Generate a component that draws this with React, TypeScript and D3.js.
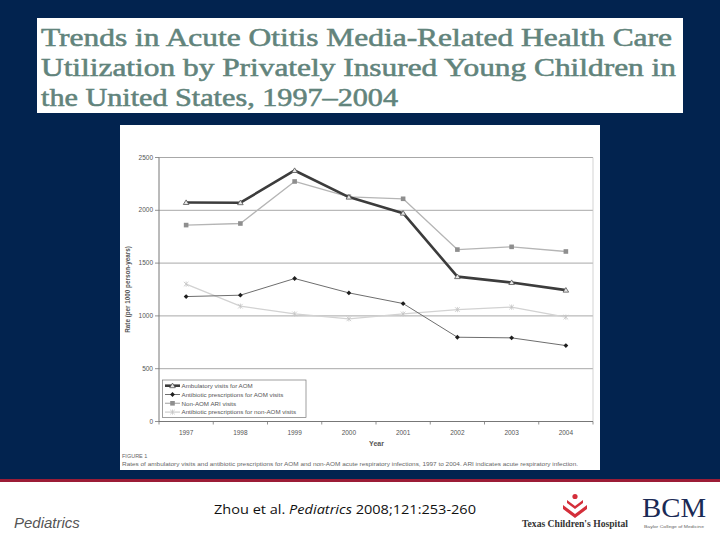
import React from "react";
import * as d3 from "d3";

const years = ["1997", "1998", "1999", "2000", "2001", "2002", "2003", "2004"];
const ambulatoryAOM = [2074, 2072, 2377, 2125, 1973, 1372, 1316, 1244];
const antibioticAOM = [1183, 1196, 1354, 1218, 1117, 798, 792, 719];
const nonAOMARI = [1860, 1875, 2273, 2128, 2109, 1628, 1654, 1610];
const antibioticNonAOM = [1301, 1092, 1019, 972, 1019, 1060, 1083, 988];
const yTicks = [0, 500, 1000, 1500, 2000, 2500];
const seriesNames = [
  "Ambulatory visits for AOM",
  "Antibiotic prescriptions for AOM visits",
  "Non-AOM ARI visits",
  "Antibiotic prescriptions for non-AOM visits",
];
const titleLines = [
  "Trends in Acute Otitis Media-Related Health Care",
  "Utilization by Privately Insured Young Children in",
  "the United States, 1997\u20132004",
];

const NAVY = "#02234f";

type Series = {
  name: string;
  values: number[];
  line: string;
  width: number;
  marker: "triangle" | "diamond" | "square" | "x";
  mFill: string;
  mStroke: string;
};

const series: Series[] = [
  { name: seriesNames[3], values: antibioticNonAOM, line: "#d2d2d2", width: 1.3, marker: "x", mFill: "none", mStroke: "#c4c4c4" },
  { name: seriesNames[1], values: antibioticAOM, line: "#6e6e6e", width: 1, marker: "diamond", mFill: "#1e1e1e", mStroke: "#1e1e1e" },
  { name: seriesNames[2], values: nonAOMARI, line: "#b5b5b5", width: 1.3, marker: "square", mFill: "#8e8e8e", mStroke: "#8e8e8e" },
  { name: seriesNames[0], values: ambulatoryAOM, line: "#3c3c3c", width: 2.6, marker: "triangle", mFill: "#e8e8e8", mStroke: "#555" },
];

function Marker({ kind, x, y, fill, stroke }: { kind: string; x: number; y: number; fill: string; stroke: string }) {
  if (kind === "triangle")
    return <path d={`M${x},${y - 2.6}L${x + 2.8},${y + 2}L${x - 2.8},${y + 2}Z`} fill={fill} stroke={stroke} strokeWidth={0.8} />;
  if (kind === "diamond")
    return <path d={`M${x},${y - 2.4}L${x + 2.4},${y}L${x},${y + 2.4}L${x - 2.4},${y}Z`} fill={fill} />;
  if (kind === "square") return <rect x={x - 2.3} y={y - 2.3} width={4.6} height={4.6} fill={fill} />;
  return (
    <path d={`M${x - 2.3},${y - 2.3}L${x + 2.3},${y + 2.3}M${x - 2.3},${y + 2.3}L${x + 2.3},${y - 2.3}M${x},${y - 2.6}L${x},${y + 2.6}`} stroke={stroke} strokeWidth={0.8} fill="none" />
  );
}

export default function App() {
  const left = 159, right = 593, top = 157.5, bottom = 421.5;
  const x = d3.scaleBand<string>().domain(years).range([left, right]);
  const y = d3.scaleLinear().domain([0, 2500]).range([bottom, top]);
  const cx = (yr: string) => (x(yr) as number) + x.bandwidth() / 2;
  const line = d3
    .line<number>()
    .x((_, i) => cx(years[i]))
    .y((v) => y(v));
  const sans = "'Liberation Sans', Arial, sans-serif";

  return (
    <div style={{ position: "fixed", left: 0, top: 0 }}>
      <svg width={720} height={540} style={{ display: "block" }}>
        <rect x={0} y={0} width={720} height={540} fill={NAVY} />
        <rect x={0} y={479} width={720} height={3} fill="#9c1c36" />
        <rect x={0} y={482} width={720} height={58} fill="#ffffff" />
        {/* Title */}
        <rect x={37} y={18} width={646} height={95} fill="#ffffff" />
        {titleLines.map((t, i) => (
          <text
            key={i}
            x={41}
            y={46 + i * 30}
            fontFamily="'Liberation Serif', 'DejaVu Serif', serif"
            fontSize={25}
            fill="#62847c"
            stroke="#62847c"
            strokeWidth={0.55}
            textLength={[631, 635, 357][i]}
            lengthAdjust="spacingAndGlyphs"
          >
            {t}
          </text>
        ))}
        {/* Figure image */}
        <rect x={120} y={125} width={480} height={345} fill="#ffffff" />
        {/* gridlines */}
        {yTicks.map((t) => (
          <g key={t}>
            {t > 0 && <line x1={left} x2={right} y1={y(t)} y2={y(t)} stroke="#a8a8a8" strokeWidth={1} />}
            <line x1={left - 4} x2={left} y1={y(t)} y2={y(t)} stroke="#777" strokeWidth={0.8} />
            <text x={left - 6} y={y(t) + 2} textAnchor="end" fontFamily={sans} fontSize={6.5} fill="#555">
              {t}
            </text>
          </g>
        ))}
        <line x1={right} x2={right} y1={top} y2={bottom} stroke="#c8c8c8" strokeWidth={0.8} />
        <line x1={left} x2={left} y1={top} y2={bottom} stroke="#777" strokeWidth={1} />
        <line x1={left} x2={right} y1={bottom} y2={bottom} stroke="#777" strokeWidth={1} />
        {years.map((yr) => (
          <g key={yr}>
            <line x1={x(yr) as number} x2={x(yr) as number} y1={bottom} y2={bottom + 3} stroke="#777" strokeWidth={0.8} />
            <text x={cx(yr)} y={435} textAnchor="middle" fontFamily={sans} fontSize={6.5} fill="#555">
              {yr}
            </text>
          </g>
        ))}
        <line x1={right} x2={right} y1={bottom} y2={bottom + 3} stroke="#777" strokeWidth={0.8} />
        <text x={376.5} y={446} textAnchor="middle" fontFamily={sans} fontSize={7} fontWeight="bold" fill="#555">
          Year
        </text>
        <text
          transform={`translate(129.5,${(top + bottom) / 2}) rotate(-90)`}
          textAnchor="middle"
          fontFamily={sans}
          fontSize={6.3}
          fontWeight="bold"
          fill="#555"
        >
          Rate (per 1000 person-years)
        </text>
        {/* series */}
        {series.map((s) => (
          <g key={s.name}>
            <path d={line(s.values) || ""} fill="none" stroke={s.line} strokeWidth={s.width} strokeLinejoin="round" />
            {s.values.map((v, i) => (
              <Marker key={i} kind={s.marker} x={cx(years[i])} y={y(v)} fill={s.mFill} stroke={s.mStroke} />
            ))}
          </g>
        ))}
        {/* legend */}
        <rect x={162.5} y={380} width={143.5} height={37.5} fill="#fff" stroke="#777" strokeWidth={0.7} />
        {seriesNames.map((nm, k) => {
          const s = series.find((q) => q.name === nm)!;
          const ly = 385.7 + k * 8.8;
          return (
            <g key={k}>
              <line x1={165} x2={180} y1={ly} y2={ly} stroke={s.line} strokeWidth={s.width} />
              <Marker kind={s.marker} x={172.5} y={ly} fill={s.mFill} stroke={s.mStroke} />
              <text x={181.5} y={ly + 2.2} fontFamily={sans} fontSize={6.2} fill="#555">
                {s.name}
              </text>
            </g>
          );
        })}
        <text x={122} y={457.5} fontFamily={sans} fontSize={5.5} fill="#666">
          FIGURE 1
        </text>
        <text x={122} y={466} fontFamily={sans} fontSize={5.3} fill="#666" textLength={456} lengthAdjust="spacingAndGlyphs">
          Rates of ambulatory visits and antibiotic prescriptions for AOM and non-AOM acute respiratory infections, 1997 to 2004. ARI indicates acute respiratory infection.
        </text>
        {/* footer */}
        <text x={14} y={528} fontFamily={sans} fontSize={15} fontStyle="italic" fill="#555">
          Pediatrics
        </text>
        <text x={214} y={514} fontFamily="'Open Sans', sans-serif" fontSize={13} fill="#111" textLength={262} lengthAdjust="spacingAndGlyphs">
          Zhou et al. <tspan fontStyle="italic">Pediatrics</tspan> 2008;121:253-260
        </text>
        {/* Texas Children's logo */}
        <g fill="#d42e3a">
          <circle cx={575} cy={496.5} r={2.6} />
          <path d="M567,500 L575,506 L583,500 L583,503 L575,509 L567,503 Z" />
          <path d="M563,505 L575,514 L587,505 L587,509 L575,518 L563,509 Z" />
        </g>
        <text x={522} y={527} fontFamily="'Liberation Serif', serif" fontWeight="bold" fontSize={9.5} fill="#333" textLength={106} lengthAdjust="spacingAndGlyphs">
          Texas Children's Hospital
        </text>
        <text x={642} y={517} fontFamily="'Liberation Serif', serif" fontSize={27} fill="#1a2a55" textLength={64} lengthAdjust="spacingAndGlyphs">
          BCM
        </text>
        <text x={644} y={528} fontFamily={sans} fontSize={4} fill="#666" textLength={60} lengthAdjust="spacingAndGlyphs">
          Baylor College of Medicine
        </text>
      </svg>
    </div>
  );
}
